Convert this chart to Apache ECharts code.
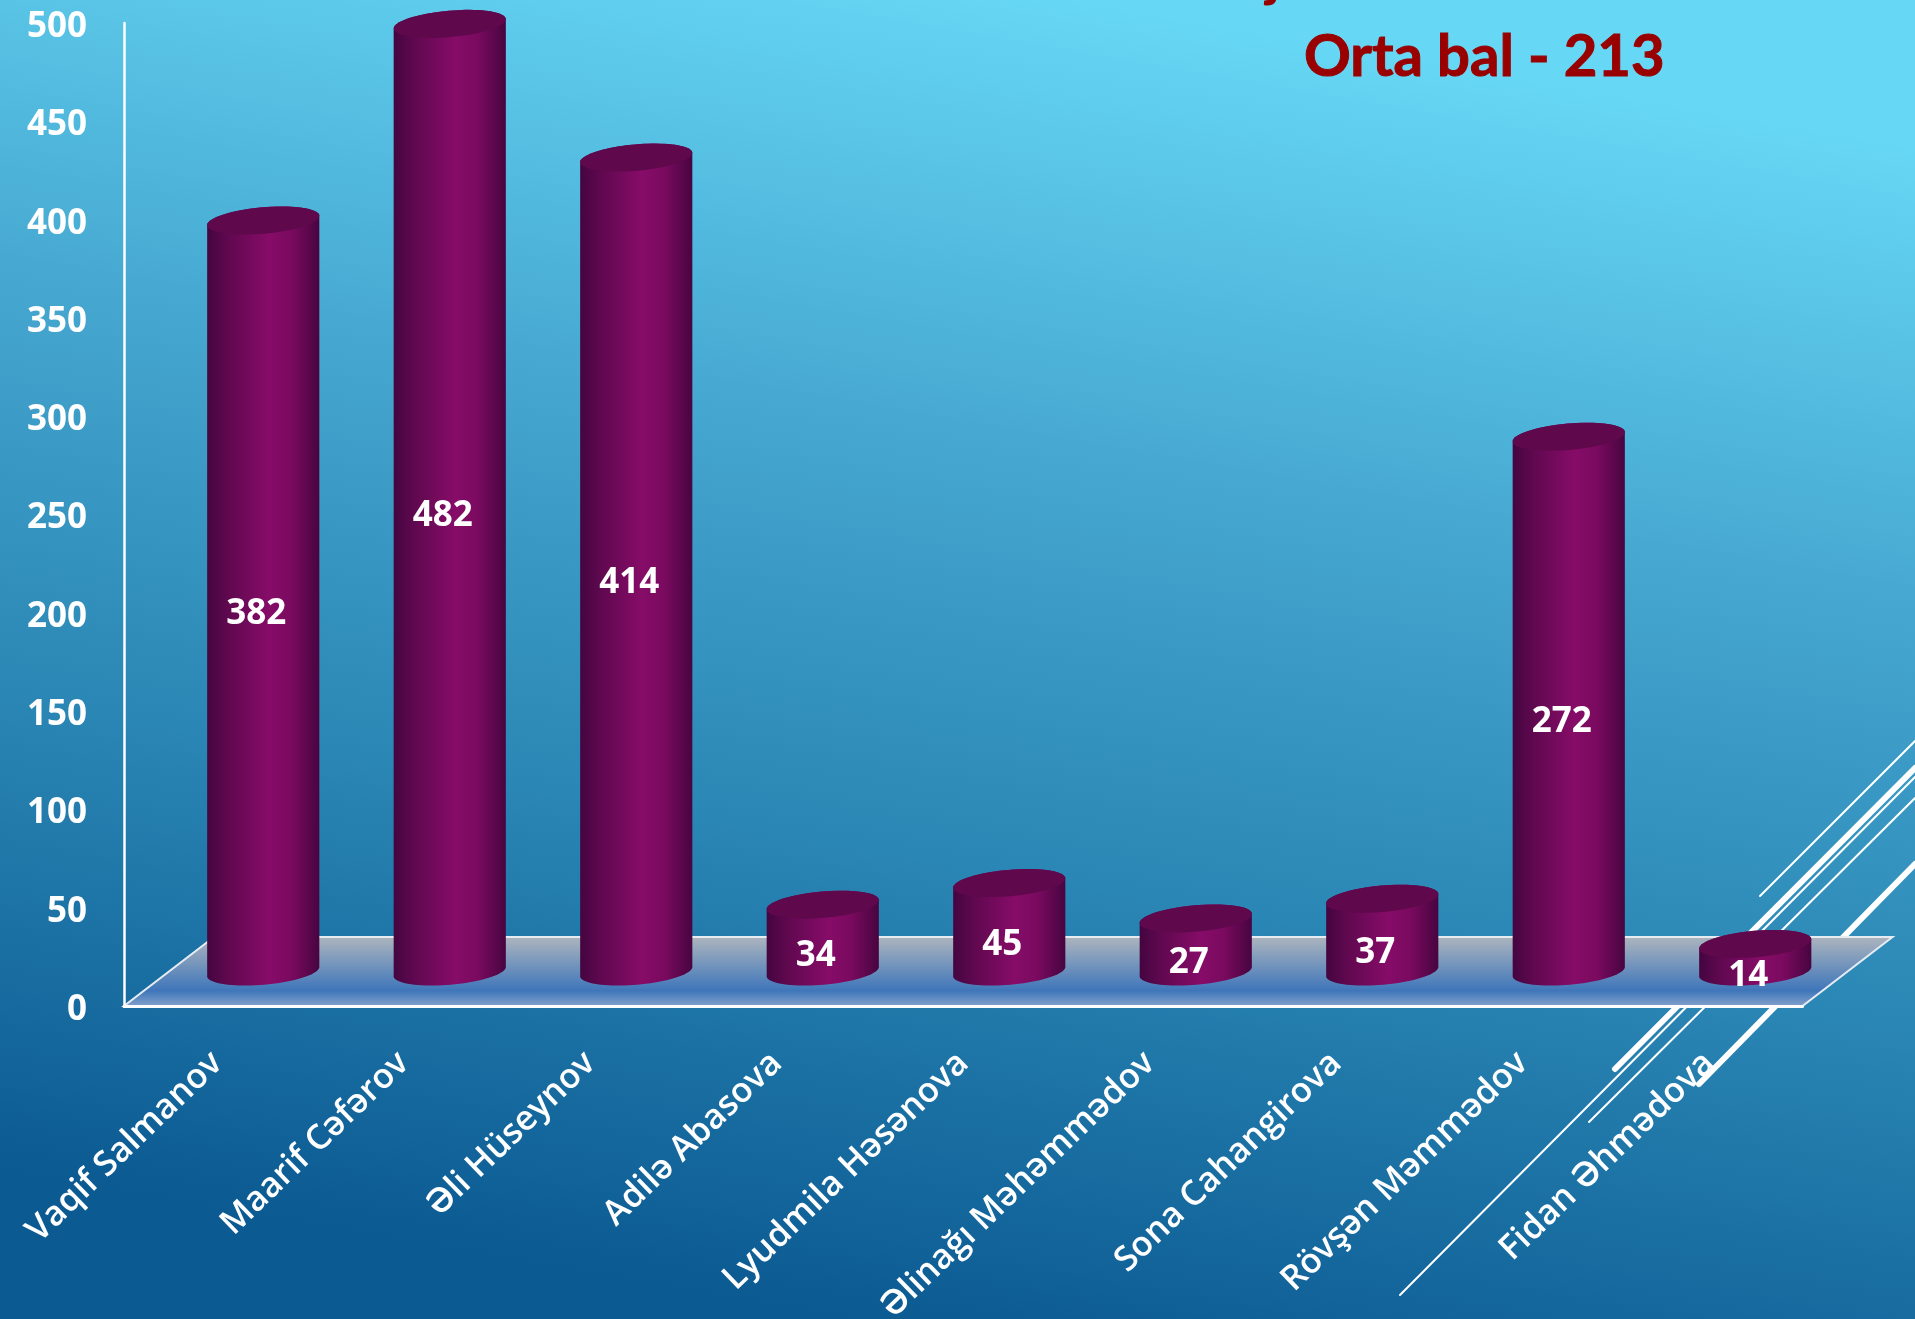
<!DOCTYPE html>
<html>
<head>
<meta charset="utf-8">
<style>
html, body { margin: 0; padding: 0; background: #0c5a92; overflow: hidden; }
#chart { width: 1915px; height: 1319px; }
</style>
<script src="https://cdn.jsdelivr.net/npm/echarts@6/dist/echarts.min.js"></script>
</head>
<body>
<div id="chart"></div>
<script>
const names = ['Vaqif Salmanov', 'Maarif Cəfərov', 'Əli Hüseynov', 'Adilə Abasova', 'Lyudmila Həsənova',
    'Əlinağı Məhəmmədov', 'Sona Cahangirova', 'Rövşən Məmmədov', 'Fidan Əhmədova'];
const scores = [382, 482, 414, 34, 45, 27, 37, 272, 14];
const yTicks = [0, 50, 100, 150, 200, 250, 300, 350, 400, 450, 500];
const titleText = 'Orta bal - 213';

const font = '"Open Sans", "Noto Sans", sans-serif';
const gridLeft = 124, gridTop = 23, gridWidth = 1678.5, gridHeight = 983;
// floor of the fake 3d box
const depthX = 90, depthY = -69;

// ellipse outline, rotated a bit like the powerpoint cylinder
function arc(cx, cy, a, b, from, to) {
    const rot = -5 * Math.PI / 180, pts = [];
    for (let i = 0; i <= 40; i++) {
        const t = from + (to - from) * i / 40;
        const x = a * Math.cos(t), y = b * Math.sin(t);
        pts.push([cx + x * Math.cos(rot) - y * Math.sin(rot), cy + x * Math.sin(rot) + y * Math.cos(rot)]);
    }
    return pts;
}

function renderCylinder(params, api) {
    const top = api.coord([api.value(0), api.value(1)]);
    const base = api.coord([api.value(0), 0]);
    const cx = top[0] + depthX / 2 + 1, topY = top[1] + depthY / 2, baseY = base[1] + depthY / 2;
    const a = 56.3, b = 13.2;
    const lower = arc(cx, baseY, a, b, 0, Math.PI);
    const upper = arc(cx, topY, a, b, Math.PI, 2 * Math.PI);
    return {
        type: 'group',
        children: [
            {
                type: 'polygon',
                shape: { points: lower.concat(upper) },
                style: {
                    fill: new echarts.graphic.LinearGradient(0, 0, 1, 0, [
                        { offset: 0, color: '#440540' },
                        { offset: 0.18, color: '#5f084f' },
                        { offset: 0.55, color: '#860c68' },
                        { offset: 0.75, color: '#7a0a5f' },
                        { offset: 1, color: '#470540' }
                    ])
                }
            },
            {
                type: 'polygon',
                shape: { points: arc(cx, topY, a, b, 0, 2 * Math.PI) },
                style: { fill: '#5f094c' }
            },
            {
                type: 'text',
                style: {
                    text: String(api.value(1)),
                    x: cx - 7,
                    y: (topY + baseY) / 2 + 18,
                    fill: '#fff',
                    font: '700 35px ' + font,
                    textAlign: 'center',
                    textVerticalAlign: 'middle'
                }
            }
        ]
    };
}

const chart = echarts.init(document.getElementById('chart'), null, { renderer: 'canvas' });

function thinLine(x1, y1, x2, y2, w) {
    return {
        type: 'line',
        z: -5,
        shape: { x1: x1, y1: y1, x2: x2, y2: y2 },
        style: { stroke: '#fff', lineWidth: w, lineCap: 'round' }
    };
}

const option = {
    animation: false,
    backgroundColor: new echarts.graphic.LinearGradient(0.44, 1, 0.56, 0, [
        { offset: 0, color: '#0b5a92' },
        { offset: 0.35, color: '#2a86b4' },
        { offset: 0.65, color: '#45a6cf' },
        { offset: 1, color: '#66d7f5' }
    ]),
    title: {
        text: titleText,
        left: 1299,
        top: 23,
        textStyle: {
            color: '#990000',
            fontFamily: 'Lato',
            fontWeight: 700,
            fontSize: 58,
            textBorderColor: '#990000',
            textBorderWidth: 1
        }
    },
    grid: {
        left: gridLeft, top: gridTop, width: gridWidth, height: gridHeight,
        containLabel: false,
        // labels run off the slide at the bottom, v6 would shrink the grid otherwise
        outerBoundsMode: 'none'
    },
    xAxis: {
        type: 'category',
        data: names,
        axisTick: { show: false },
        axisLine: { lineStyle: { color: '#fff', width: 3 } },
        axisLabel: {
            interval: 0,
            rotate: 44,
            margin: 52,
            color: '#fff',
            fontFamily: font,
            fontWeight: 600,
            fontSize: 34.5
        }
    },
    yAxis: {
        type: 'value',
        min: yTicks[0],
        max: yTicks[yTicks.length - 1],
        interval: yTicks[1] - yTicks[0],
        splitLine: { show: false },
        axisTick: { show: false },
        axisLine: { show: true, lineStyle: { color: '#fff', width: 2.5 } },
        // top aligned with a tiny line height puts the digits a bit under the tick, as on the slide
        axisLabel: {
            margin: 37,
            verticalAlign: 'top',
            lineHeight: 8,
            color: '#fff',
            fontFamily: font,
            fontWeight: 700,
            fontSize: 35
        }
    },
    graphic: [
        thinLine(1760, 896, 1915, 741, 2),
        thinLine(1615, 1069, 1915, 768, 6),
        thinLine(1400, 1295, 1915, 777, 2),
        thinLine(1589, 1122, 1915, 798, 2),
        thinLine(1699, 1084, 1915, 864, 6),
        {
            type: 'polygon',
            z: -4,
            shape: {
                points: [
                    [gridLeft, gridTop + gridHeight],
                    [gridLeft + gridWidth, gridTop + gridHeight],
                    [gridLeft + gridWidth + depthX, gridTop + gridHeight + depthY],
                    [gridLeft + depthX, gridTop + gridHeight + depthY]
                ]
            },
            style: {
                stroke: '#e6ecf2',
                lineWidth: 2,
                fill: new echarts.graphic.LinearGradient(0, 0, 0, 1, [
                    { offset: 0, color: '#aeb6be' },
                    { offset: 0.77, color: '#3f76ba' },
                    { offset: 1, color: '#86a3cc' }
                ])
            }
        },
        {
            // only the tail of the line above the title is left on the slide
            type: 'text',
            x: 1266,
            y: -52,
            z: 5,
            style: { text: 'j', fill: '#990000', font: '700 57px Lato' }
        }
    ],
    series: [
        {
            type: 'custom',
            renderItem: renderCylinder,
            encode: { x: 0, y: 1 },
            data: scores.map(function (v, i) { return [i, v]; }),
            clip: false,
            z: 3
        }
    ]
};
chart.setOption(option);
</script>
</body>
</html>
